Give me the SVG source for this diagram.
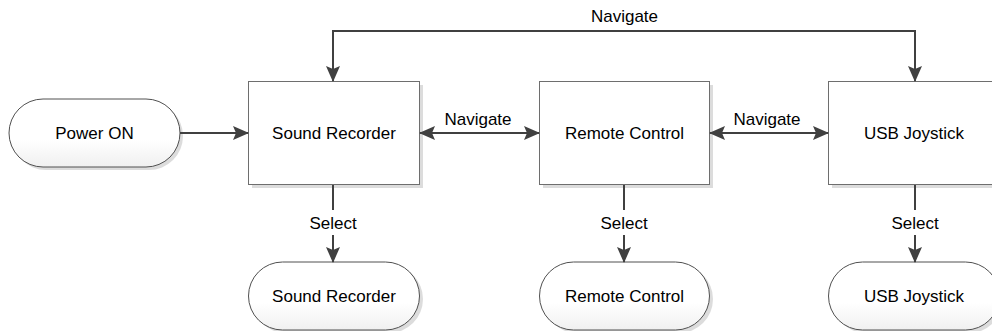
<svg xmlns="http://www.w3.org/2000/svg" width="992" height="331" viewBox="0 0 992 331">
<style>
.box{fill:#ffffff;stroke:#6e6e6e;stroke-width:1}
.term{fill:url(#tg);stroke:#505050;stroke-width:1}
.sh{fill:#dcdcdc}
.lbl{font-family:"Liberation Sans",Arial,sans-serif;font-size:17px;fill:#000;text-anchor:middle}
.con{fill:none;stroke:#404040;stroke-width:2}
</style>
<defs>
<linearGradient id="tg" x1="0" y1="0" x2="0" y2="1">
<stop offset="0" stop-color="#ffffff"/>
<stop offset="0.6" stop-color="#ffffff"/>
<stop offset="1" stop-color="#f0f0f0"/>
</linearGradient>
<marker id="ah" viewBox="0 0 16 14" refX="15" refY="7" markerWidth="16" markerHeight="14" markerUnits="userSpaceOnUse" orient="auto-start-reverse">
<path d="M0,0 L16,7 L0,14 L3,7 Z" fill="#404040"/>
</marker>
</defs>
<g id="power-on">
<rect class="sh" x="12" y="102" width="171" height="68" rx="34" ry="34"/>
<rect class="term" x="9" y="99" width="171" height="68" rx="34" ry="34"/>
<text class="lbl" x="94.5" y="139">Power ON</text>
</g>
<g id="sound-recorder">
<rect class="sh" x="252" y="85" width="171" height="103"/>
<rect class="box" x="248.5" y="81.5" width="171" height="103"/>
<text class="lbl" x="334" y="139">Sound Recorder</text>
</g>
<g id="remote-control">
<rect class="sh" x="543" y="85" width="170" height="103"/>
<rect class="box" x="539.5" y="81.5" width="170" height="103"/>
<text class="lbl" x="624.5" y="139">Remote Control</text>
</g>
<g id="usb-joystick">
<rect class="sh" x="832" y="85" width="171" height="103"/>
<rect class="box" x="828.5" y="81.5" width="171" height="103"/>
<text class="lbl" x="914" y="139">USB Joystick</text>
</g>
<g id="sound-recorder-end">
<rect class="sh" x="252" y="265" width="171" height="68" rx="34" ry="34"/>
<rect class="term" x="248.5" y="262" width="171" height="68" rx="34" ry="34"/>
<text class="lbl" x="334" y="302">Sound Recorder</text>
</g>
<g id="remote-control-end">
<rect class="sh" x="543" y="265" width="170" height="68" rx="34" ry="34"/>
<rect class="term" x="539.5" y="262" width="170" height="68" rx="34" ry="34"/>
<text class="lbl" x="624.5" y="302">Remote Control</text>
</g>
<g id="usb-joystick-end">
<rect class="sh" x="832" y="265" width="171" height="68" rx="34" ry="34"/>
<rect class="term" x="828.5" y="262" width="171" height="68" rx="34" ry="34"/>
<text class="lbl" x="914" y="302">USB Joystick</text>
</g>
<g id="connectors">
<path class="con" d="M180,133 L248,133" marker-end="url(#ah)"/>
<path class="con" d="M420,133 L539,133" marker-start="url(#ah)" marker-end="url(#ah)"/>
<path class="con" d="M710,133 L828,133" marker-start="url(#ah)" marker-end="url(#ah)"/>
<path class="con" d="M333,81 L333,31 L915,31 L915,81" marker-start="url(#ah)" marker-end="url(#ah)"/>
<path class="con" d="M333,185 L333,210"/>
<path class="con" d="M333,235 L333,262" marker-end="url(#ah)"/>
<path class="con" d="M624,185 L624,210"/>
<path class="con" d="M624,235 L624,262" marker-end="url(#ah)"/>
<path class="con" d="M915,185 L915,210"/>
<path class="con" d="M915,235 L915,262" marker-end="url(#ah)"/>
<text class="lbl" x="624.5" y="22">Navigate</text>
<text class="lbl" x="478" y="125">Navigate</text>
<text class="lbl" x="767" y="125">Navigate</text>
<text class="lbl" x="333" y="229">Select</text>
<text class="lbl" x="624" y="229">Select</text>
<text class="lbl" x="915" y="229">Select</text>
</g>
</svg>
